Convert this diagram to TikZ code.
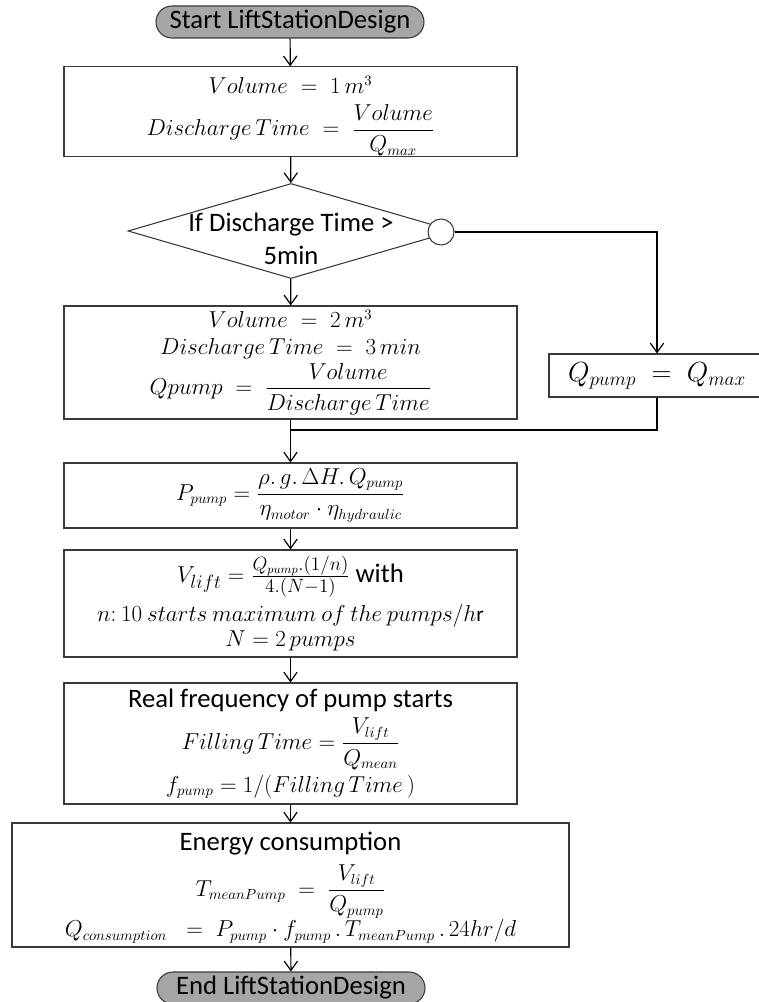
\documentclass[tikz,border=0pt]{standalone}
\usepackage{amsmath}
\usepackage{fontspec}
\setmainfont{Carlito}
\usetikzlibrary{arrows.meta,shapes.geometric}
\definecolor{termgray}{HTML}{A6A6A6}
\definecolor{edge}{HTML}{3A3A3A}
\newcommand\mathsz{\fontsize{16}{19}\selectfont}
\newcommand\txtsz{\fontsize{20}{24}\selectfont}
\newcommand\bigsz{\fontsize{19}{23}\selectfont}
\newcommand\hugesz{\fontsize{21.5}{25}\selectfont}

\begin{document}
\begin{tikzpicture}[x=0.75pt, y=-0.75pt,
  box/.style={draw=edge, fill=white, align=center, line width=0.8pt, font=\mathsz, inner sep=0pt, minimum width=339.75pt},
  term/.style={draw=edge, fill=termgray, rounded corners=12pt, font=\txtsz, line width=0.8pt, minimum width=201pt, minimum height=24pt, inner sep=0pt},
  dec/.style={diamond, draw=edge, fill=white, line width=0.8pt, minimum width=244.5pt, minimum height=71.25pt, inner sep=0pt},
  conn/.style={circle, draw=edge, fill=white, line width=0.8pt, minimum size=19.5pt, inner sep=0pt},
  link/.style={line width=0.9pt, black},
  arrow/.style={link, -{Straight Barb[length=7pt, width=10pt, line width=0.9pt]}}
]
\useasboundingbox (0,0) rectangle (758,1002);

% main flow
\node[term] (start) at (290,22) {Start LiftStationDesign};
\node[box, minimum height=65.25pt] (vol1) at (290.5,111.5)
  {\rule{0pt}{20pt}$Volume \;=\; 1\,m^3$\\[7pt] $Discharge\,Time \;=\; \dfrac{Volume}{Q_{max}}$};
\node[dec] (test) at (291,231) {};
\node[font=\txtsz, align=center] (testtxt) at (291,239) {If Discharge Time >\\[1pt] 5min};
\node[conn] (yes) at (441,232) {};
\node[box, minimum height=84.75pt] (vol2) at (290.5,362.5)
  {$Volume \;=\; 2\,m^3$\\[1pt] $Discharge\,Time \;=\; 3\,min$\\[2pt] $Qpump \;=\; \dfrac{Volume}{Discharge\,Time}$};
\node[box, font=\hugesz, minimum width=162pt, minimum height=32.25pt] (qmax) at (657,375.5)
  {$Q_{pump} \;=\; Q_{max}$};
\coordinate (merge) at (290.5,430);
\node[box, minimum height=48.75pt] (power) at (290.5,495.5)
  {$P_{pump} = \dfrac{\rho.\,g.\,\Delta H.\,Q_{pump}}{\eta_{motor}\cdot\eta_{hydraulic}}$};
\node[box, minimum height=80.25pt] (vlift) at (290.5,603.5)
  {{\bigsz$V_{lift} = \frac{Q_{pump}.(1/n)}{4.(N-1)}$ {\txtsz with}}\\[4pt]
   $n{:}\ 10\ starts\ maximum\ of\ the\ pumps/h\mathrm{r}$\\ $N = 2\,pumps$};
\node[box, minimum height=90.75pt] (freq) at (290.5,743.5)
  {{\txtsz Real frequency of pump starts}\\[4pt]
   $Filling\,Time = \dfrac{V_{lift}}{Q_{mean}}$\\[3pt] $f_{pump} = 1/(Filling\,Time\,)$};
\node[box, minimum width=417.75pt, minimum height=93pt] (energy) at (290.5,885)
  {\rule{0pt}{18pt}{\txtsz Energy consumption}\\[6pt]
   $T_{meanPump} \;=\; \dfrac{V_{lift}}{Q_{pump}}$\\[0pt]
   $Q_{consumption} \;\;=\; P_{pump}\cdot f_{pump}\,.\,T_{meanPump}\,.\,24hr/d$};
\node[term] (stop) at (291,988) {End LiftStationDesign};

% connectors
\draw[arrow] (start) -- (vol1);
\draw[arrow] (vol1) -- (test);
\draw[arrow] (test) -- (vol2);
\draw[arrow] (yes.east) -| (qmax.north);
\draw[link] (qmax.south) |- (merge);
\draw[arrow] (vol2) -- (power);
\draw[arrow] (power) -- (vlift);
\draw[arrow] (vlift) -- (freq);
\draw[arrow] (freq) -- (energy);
\draw[arrow] (energy) -- (stop);
\end{tikzpicture}
\end{document}
